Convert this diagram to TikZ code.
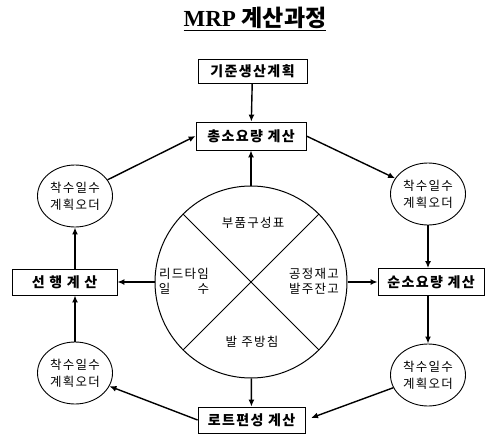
\documentclass[tikz,border=0pt]{standalone}
\usepackage{fontspec}
\setmainfont{Liberation Serif}
\newfontfamily\kr{Noto Sans CJK KR}[LetterSpace = 10]
\newfontfamily\krt{Noto Sans CJK KR}
\usetikzlibrary{shapes.geometric, arrows.meta}

\tikzset{
	box/.style = {draw, line width = 0.8pt, inner sep = 0pt, font = \kr\bfseries\fontsize{14}{16}\selectfont},
	oval/.style = {draw, line width = 0.9pt, ellipse, inner sep = 0pt, minimum width = 75pt, minimum height = 62pt, align = center, font = \kr\fontsize{12.5}{17}\selectfont},
	part/.style = {align = center, font = \kr\fontsize{12.5}{15}\selectfont},
	arr/.style = {line width = 1.4pt, -{Latex[length = 7pt, width = 6pt]}}
}

\begin{document}
\begin{tikzpicture}[x = 1pt, y = -1pt]
	\useasboundingbox (0, 0) rectangle (485, 434);

	\node (title) at (255, 19) {\fontsize{23}{26}\selectfont\underline{\textbf{MRP} {\krt\bfseries 계산과정}}};

	\node[box, minimum width = 109pt, minimum height = 24pt] (plan) at (252.5, 71) {기준생산계획};
	\node[box, minimum width = 110pt, minimum height = 28pt] (gross) at (251, 136) {총소요량 계산};
	\node[box, minimum width = 105pt, minimum height = 26pt] (pre) at (64.5, 282) {선 행 계 산};
	\node[box, minimum width = 106pt, minimum height = 27pt] (net) at (431, 282) {순소요량 계산};
	\node[box, minimum width = 107pt, minimum height = 26pt] (lot) at (251.5, 420) {로트편성 계산};

	\node[oval] (lt) at (75, 196) {착수일수\\계획오더};
	\node[oval] (rt) at (428, 194) {착수일수\\계획오더};
	\node[oval] (lb) at (75, 373) {착수일수\\계획오더};
	\node[oval] (rb) at (428, 375) {착수일수\\계획오더};

	\node[draw, line width = 1pt, circle, minimum size = 192pt, inner sep = 0pt] (mrp) at (251, 282) {};
	\draw[line width = 1pt] (mrp.45) -- (mrp.225);
	\draw[line width = 1pt] (mrp.135) -- (mrp.315);
	\node[part] (bom) at (253, 223) {부품구성표};
	\node[part] (lead) at (184, 281) {리드타임\\일\hspace{2.2em}수};
	\node[part] (stock) at (314, 281) {공정재고\\발주잔고};
	\node[part] (policy) at (252, 342) {발 주방침};

	\draw[arr] (plan) -- (gross);
	\draw[arr] (mrp) -- (gross);
	\draw[arr] (mrp.west) -- (pre.east);
	\draw[arr] (mrp.east) -- (net.west);
	\draw[arr] (mrp) -- (lot);

	\draw[arr] (lt) -- (gross.west);
	\draw[arr] (gross.east) -- (rt);
	\draw[arr] (rt) -- (rt |- net.north);
	\draw[arr] (net.south -| rb) -- (rb);
	\draw[arr, shorten > = 6pt] (rb) -- (lot.east);
	\draw[arr] (lot.west) -- (lb);
	\draw[arr] (lb) -- (lb |- pre.south);
	\draw[arr] (pre.north -| lt) -- (lt);
\end{tikzpicture}
\end{document}
